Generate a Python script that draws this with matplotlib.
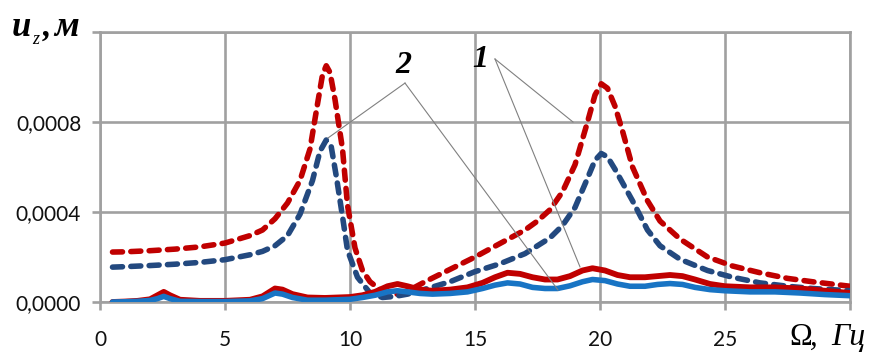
import matplotlib
matplotlib.use("Agg")
import matplotlib.pyplot as plt
import numpy as np

# Frequency grids, Hz
freq_red_dash = [0.5, 1, 2, 3, 4, 5, 6, 6.5, 7, 7.5, 8, 8.4, 8.7, 8.9, 9.05, 9.2, 9.4,
                 9.7, 9.9, 10.2, 10.5, 10.8, 11.2, 11.6, 12.0, 12.5, 13, 14, 15, 16,
                 17, 17.5, 18, 18.5, 19, 19.5, 19.8, 20.05, 20.3, 20.6, 20.9, 21.3,
                 21.9, 22.4, 23.2, 24.3, 25.3, 26.4, 27.5, 28.5, 30]
uz_red_dash = [0.000222, 0.000223, 0.000228, 0.000235, 0.000245, 0.000262, 0.000295,
               0.000320, 0.000370, 0.000440, 0.000540, 0.000680, 0.000880, 0.001010,
               0.001050, 0.001020, 0.000900, 0.000680, 0.000430, 0.000240, 0.000140,
               0.000090, 0.000055, 0.000035, 0.000035, 0.000060, 0.000090, 0.000145,
               0.000200, 0.000260, 0.000320, 0.000360, 0.000410, 0.000490, 0.000610,
               0.000800, 0.000920, 0.000970, 0.000950, 0.000870, 0.000760, 0.000600,
               0.000450, 0.000360, 0.000280, 0.000200, 0.000160, 0.000130, 0.000105,
               0.000090, 0.000070]

freq_blue_dash = [0.5, 1, 2, 3, 4, 5, 6, 6.5, 7, 7.5, 8, 8.5, 8.8, 9.05, 9.25, 9.45,
                  9.7, 9.9, 10.3, 10.8, 11.3, 11.8, 12.3, 12.8, 14, 15, 16, 17, 18,
                  18.5, 19, 19.5, 19.8, 20.05, 20.3, 20.6, 20.9, 21.3, 21.9, 22.4, 23.2,
                  24.3, 25.3, 26.4, 27.5, 28.5, 30]
uz_blue_dash = [0.000155, 0.000157, 0.000162, 0.000168, 0.000176, 0.000188, 0.000210,
                0.000225, 0.000250, 0.000295, 0.000390, 0.000540, 0.000670, 0.000720,
                0.000690, 0.000560, 0.000380, 0.000230, 0.000110, 0.000040, 0.000020,
                0.000025, 0.000035, 0.000050, 0.000090, 0.000135, 0.000170, 0.000215,
                0.000285, 0.000340, 0.000420, 0.000550, 0.000630, 0.000660, 0.000645,
                0.000590, 0.000530, 0.000450, 0.000320, 0.000250, 0.000190, 0.000140,
                0.000110, 0.000085, 0.000070, 0.000060, 0.000050]

freq_solid = [0.5, 1, 1.5, 2, 2.3, 2.55, 2.8, 3.2, 4, 5, 6, 6.5, 7.0, 7.3, 7.7, 8.3, 9,
              10, 10.5, 11, 11.5, 11.9, 12.3, 12.8, 13.3, 14, 14.7, 15.3, 15.8, 16.3,
              16.8, 17.3, 17.8, 18.3, 18.8, 19.3, 19.7, 20.2, 20.7, 21.2, 21.8, 22.3,
              22.8, 23.3, 23.8, 24.4, 25, 26, 27, 28, 29, 30]
uz_red_solid = [0.0, 0.000002, 0.000005, 0.000012, 0.000030, 0.000045, 0.000030,
                0.000010, 0.000005, 0.000005, 0.000010, 0.000025, 0.000060, 0.000055,
                0.000035, 0.000020, 0.000018, 0.000022, 0.000030, 0.000045, 0.000070,
                0.000080, 0.000070, 0.000055, 0.000050, 0.000055, 0.000065, 0.000085,
                0.000110, 0.000130, 0.000125, 0.000110, 0.000100, 0.000100, 0.000115,
                0.000140, 0.000150, 0.000140, 0.000120, 0.000110, 0.000110, 0.000115,
                0.000120, 0.000115, 0.000100, 0.000080, 0.000070, 0.000065, 0.000065,
                0.000060, 0.000050, 0.000040]
uz_blue_solid = [0.0, 0.000001, 0.000003, 0.000007, 0.000015, 0.000025, 0.000015,
                 0.000003, 0.000002, 0.000002, 0.000005, 0.000015, 0.000040, 0.000035,
                 0.000020, 0.000008, 0.000008, 0.000012, 0.000020, 0.000030, 0.000045,
                 0.000050, 0.000045, 0.000038, 0.000035, 0.000038, 0.000045, 0.000060,
                 0.000075, 0.000085, 0.000080, 0.000065, 0.000060, 0.000060, 0.000072,
                 0.000090, 0.000100, 0.000095, 0.000080, 0.000070, 0.000070, 0.000078,
                 0.000082, 0.000078, 0.000065, 0.000055, 0.000050, 0.000045, 0.000045,
                 0.000040, 0.000033, 0.000028]

x_ticks = [0, 5, 10, 15, 20, 25, 30]
x_tick_labels = ["0", "5", "10", "15", "20", "25", ""]
y_ticks = [0.0, 0.0004, 0.0008, 0.0012]
y_tick_labels = ["0,0000", "0,0004", "0,0008", ""]

RED = "#C00000"
NAVY = "#23497F"
BLUE = "#1874C4"
GRID = "#A0A0A0"
SERIF = "Liberation Serif"

fig = plt.figure(figsize=(8.70, 3.53), dpi=100)
ax = fig.add_axes([100 / 870, 51 / 353, 750 / 870, 270 / 353])

ax.set_xlim(0, 30)
ax.set_ylim(0, 0.0012)
ax.set_xticks(x_ticks)
ax.set_xticklabels(x_tick_labels)
ax.set_yticks(y_ticks)
ax.set_yticklabels(y_tick_labels)
ax.grid(True, color=GRID, linewidth=1.9, zorder=0)
ax.set_axisbelow(True)
for sp in ax.spines.values():
    sp.set_color(GRID)
    sp.set_linewidth(1.9)
ax.tick_params(axis="both", direction="out", length=5.5, width=1.9, color=GRID,
               labelsize=15, labelcolor="#111111")
ax.tick_params(axis="x", pad=15)
ax.tick_params(axis="y", pad=8)
for lab in ax.get_xticklabels() + ax.get_yticklabels():
    lab.set_fontfamily("Lato")

dash = (0, (1.8, 1.5))
ax.plot(freq_red_dash, uz_red_dash, color=RED, lw=4.0, linestyle=dash,
        dash_capstyle="round", dash_joinstyle="round", zorder=3)
ax.plot(freq_blue_dash, uz_blue_dash, color=NAVY, lw=4.0, linestyle=dash,
        dash_capstyle="round", dash_joinstyle="round", zorder=3)
ax.plot(freq_solid, uz_red_solid, color=RED, lw=4.2, solid_capstyle="round",
        solid_joinstyle="round", zorder=4)
ax.plot(freq_solid, uz_blue_solid, color=BLUE, lw=4.0, solid_capstyle="round",
        solid_joinstyle="round", zorder=5)

# Curve labels with leader lines
lead = dict(color="#808080", lw=0.8)
for end in [(9.12, 0.000729), (18.32, 0.0000533)]:
    ax.plot([12.2, end[0]], [0.000973, end[1]], zorder=6, **lead)
for end in [(18.92, 0.000800), (19.2, 0.000156)]:
    ax.plot([15.8, end[0]], [0.00108, end[1]], zorder=6, **lead)
ax.text(12.12, 0.001049, "2", ha="center", va="center", fontsize=23,
        family=SERIF, style="italic", weight="bold", zorder=7)
ax.text(15.2, 0.001076, "1", ha="center", va="center", fontsize=23,
        family=SERIF, style="italic", weight="bold", zorder=7)

# Vertical axis caption: u with subscript z, then unit
fig.text(12 / 870, 1 - 36 / 353, "u", ha="left", va="baseline", fontsize=25,
         family=SERIF, style="italic", weight="bold")
fig.text(32 / 870, 1 - 44 / 353, "z", ha="left", va="baseline", fontsize=13,
         family=SERIF, style="italic")
fig.text(43 / 870, 1 - 36 / 353, ",", ha="left", va="baseline", fontsize=24,
         family=SERIF, style="italic", weight="bold")
fig.text(54 / 870, 1 - 36 / 353, "м", ha="left", va="baseline", fontsize=26,
         family=SERIF, style="italic", weight="bold")

# Horizontal axis caption
fig.text(789 / 870, 1 - 345 / 353, "Ω", ha="left", va="baseline", fontsize=22,
         family=SERIF)
fig.text(810 / 870, 1 - 345 / 353, ",", ha="left", va="baseline", fontsize=22,
         family=SERIF, style="italic")
fig.text(831 / 870, 1 - 345 / 353, "Гц", ha="left", va="baseline", fontsize=23,
         family=SERIF, style="italic")

fig.savefig("out.png", dpi=100)
